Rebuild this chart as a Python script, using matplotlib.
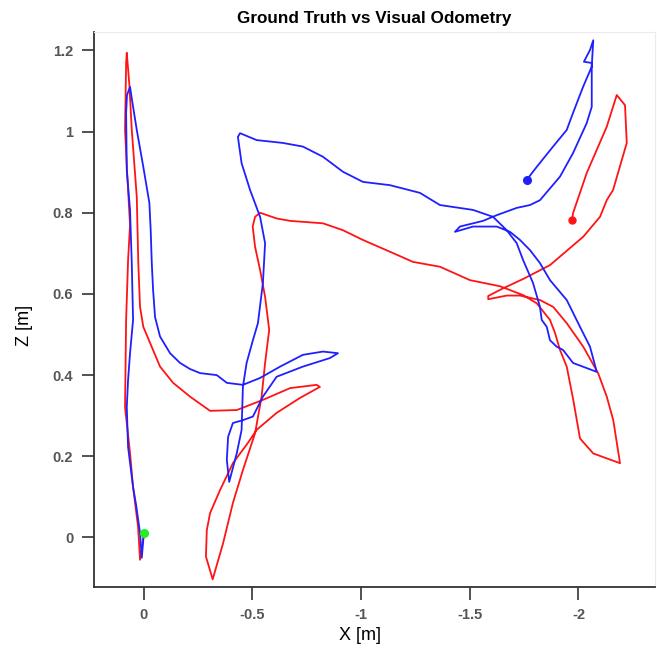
from matplotlib import pyplot as plt

# ground truth trajectory (red), X and Z in metres
gt_x = [0.000, 0.016, 0.025, 0.048, 0.062, 0.085, 0.080, 0.071, 0.062, 0.076,
        0.085, 0.080, 0.077, 0.065, 0.054, 0.031, 0.024, 0.016, 0.001, -0.076,
        -0.136, -0.214, -0.306, -0.429, -0.549, -0.674, -0.796, -0.811, -0.720, -0.612,
        -0.520, -0.480, -0.411, -0.352, -0.306, -0.291, -0.287, -0.318, -0.366, -0.411,
        -0.457, -0.513, -0.543, -0.559, -0.574, -0.578, -0.559, -0.536, -0.513, -0.502,
        -0.513, -0.536, -0.612, -0.674, -0.825, -0.917, -1.009, -1.133, -1.239, -1.363,
        -1.501, -1.639, -1.746, -1.808, -1.869, -1.892, -1.915, -1.946, -1.976, -2.007,
        -2.068, -2.191, -2.160, -2.130, -2.091, -2.022, -1.946, -1.884, -1.823, -1.731,
        -1.670, -1.585, -1.585, -1.654, -1.746, -1.869, -2.022, -2.099, -2.130, -2.159,
        -2.222, -2.214, -2.176, -2.130, -2.038, -1.975, -1.969]
gt_z = [0.001, -0.055, 0.026, 0.124, 0.208, 0.321, 0.536, 0.683, 0.770, 0.905,
        1.004, 1.169, 1.194, 1.115, 1.004, 0.839, 0.676, 0.568, 0.519, 0.421,
        0.381, 0.347, 0.312, 0.314, 0.339, 0.368, 0.376, 0.371, 0.344, 0.307,
        0.265, 0.233, 0.183, 0.117, 0.060, 0.018, -0.047, -0.103, -0.014, 0.085,
        0.166, 0.257, 0.347, 0.430, 0.495, 0.511, 0.593, 0.659, 0.716, 0.766,
        0.790, 0.800, 0.786, 0.780, 0.774, 0.757, 0.733, 0.704, 0.679, 0.667,
        0.634, 0.619, 0.597, 0.577, 0.536, 0.504, 0.462, 0.421, 0.339, 0.244,
        0.207, 0.183, 0.289, 0.347, 0.404, 0.470, 0.528, 0.568, 0.585, 0.596,
        0.596, 0.587, 0.595, 0.614, 0.637, 0.671, 0.741, 0.790, 0.831, 0.856,
        0.972, 1.065, 1.090, 1.012, 0.898, 0.799, 0.778]

# visual odometry trajectory (blue)
vo_x = [0.000, 0.008, 0.016, 0.034, 0.048, 0.071, 0.077, 0.071, 0.062, 0.048,
        0.054, 0.062, 0.077, 0.080, 0.076, 0.062, 0.053, 0.031, 0.001, -0.027,
        -0.033, -0.038, -0.044, -0.053, -0.076, -0.122, -0.168, -0.214, -0.260, -0.337,
        -0.383, -0.457, -0.536, -0.628, -0.733, -0.825, -0.894, -0.857, -0.733, -0.612,
        -0.549, -0.503, -0.457, -0.411, -0.389, -0.383, -0.394, -0.429, -0.451, -0.457,
        -0.474, -0.503, -0.526, -0.549, -0.559, -0.536, -0.490, -0.451, -0.434, -0.444,
        -0.520, -0.641, -0.733, -0.825, -0.917, -1.009, -1.133, -1.271, -1.363, -1.515,
        -1.607, -1.670, -1.716, -1.745, -1.791, -1.823, -1.831, -1.854, -1.869, -1.900,
        -1.929, -1.975, -2.084, -2.053, -2.007, -1.946, -1.869, -1.823, -1.777, -1.731,
        -1.685, -1.624, -1.515, -1.432, -1.455, -1.561, -1.624, -1.716, -1.777, -1.823,
        -1.915, -1.975, -2.038, -2.061, -2.061, -2.061, -2.025, -2.053, -2.068, -2.061,
        -2.021, -1.975, -1.946, -1.883, -1.808, -1.762]
vo_z = [0.001, -0.050, 0.011, 0.080, 0.124, 0.223, 0.321, 0.388, 0.454, 0.536,
        0.676, 0.807, 0.905, 1.046, 1.090, 1.110, 1.078, 1.004, 0.913, 0.824,
        0.757, 0.676, 0.610, 0.543, 0.495, 0.454, 0.430, 0.415, 0.405, 0.400,
        0.381, 0.376, 0.393, 0.421, 0.450, 0.458, 0.454, 0.442, 0.421, 0.396,
        0.347, 0.298, 0.289, 0.282, 0.248, 0.191, 0.137, 0.208, 0.265, 0.371,
        0.430, 0.486, 0.528, 0.627, 0.725, 0.790, 0.856, 0.922, 0.987, 0.996,
        0.979, 0.972, 0.963, 0.938, 0.901, 0.876, 0.868, 0.849, 0.819, 0.807,
        0.790, 0.757, 0.725, 0.684, 0.627, 0.568, 0.536, 0.519, 0.486, 0.470,
        0.462, 0.430, 0.408, 0.470, 0.519, 0.585, 0.634, 0.676, 0.708, 0.733,
        0.753, 0.766, 0.766, 0.753, 0.766, 0.780, 0.794, 0.812, 0.819, 0.831,
        0.889, 0.947, 1.021, 1.061, 1.127, 1.169, 1.172, 1.201, 1.225, 1.160,
        1.110, 1.046, 1.004, 0.963, 0.913, 0.881]

x_ticks = [0, -0.5, -1, -1.5, -2]
x_tick_labels = ['0', '-0.5', '-1', '-1.5', '-2']
z_ticks = [0, 0.2, 0.4, 0.6, 0.8, 1.0, 1.2]
z_tick_labels = ['0', '0.2', '0.4', '0.6', '0.8', '1', '1.2']

plt.rcParams['font.family'] = ['Liberation Sans', 'DejaVu Sans']

fig = plt.figure(figsize=(6.57, 6.54), dpi=100)
ax = fig.add_axes([0.1431, 0.1020, 0.8539, 0.8495])

ax.plot(gt_x, gt_z, color='#ff1414', lw=1.3)
ax.plot(vo_x, vo_z, color='#2020ff', lw=1.3)
# start and end markers
ax.plot(gt_x[0], gt_z[0] + 0.01, 'o', color='#22ee22', ms=5.5)
ax.plot(vo_x[-1], vo_z[-1], 'o', color='#2020ff', ms=5.5)
ax.plot(gt_x[-1], gt_z[-1] + 0.005, 'o', color='#ff1414', ms=5)

ax.set_xlim(0.2276, -2.352)
ax.set_ylim(-0.1227, 1.246)
ax.set_xticks(x_ticks)
ax.set_xticklabels(x_tick_labels)
ax.set_yticks(z_ticks)
ax.set_yticklabels(z_tick_labels)
ax.tick_params(direction='out', length=9, width=1.2, color='#333333',
               labelsize=10.5, labelcolor='#555555', pad=6)
for lab in ax.get_xticklabels() + ax.get_yticklabels():
    lab.set_fontweight('bold')

for side in ['left', 'bottom']:
    ax.spines[side].set_color('#333333')
    ax.spines[side].set_linewidth(1.3)
for side in ['top', 'right']:
    ax.spines[side].set_color('#ebebeb')
    ax.spines[side].set_linewidth(0.8)

ax.set_title('Ground Truth vs Visual Odometry', fontsize=12.3, fontweight='bold', pad=6)
ax.set_xlabel('X [m]', fontsize=13)
ax.set_ylabel('Z [m]', fontsize=13)
ax.xaxis.set_label_coords(0.474, -0.0715)
ax.yaxis.set_label_coords(-0.108, 0.472)

fig.savefig('out.png', dpi=100)
